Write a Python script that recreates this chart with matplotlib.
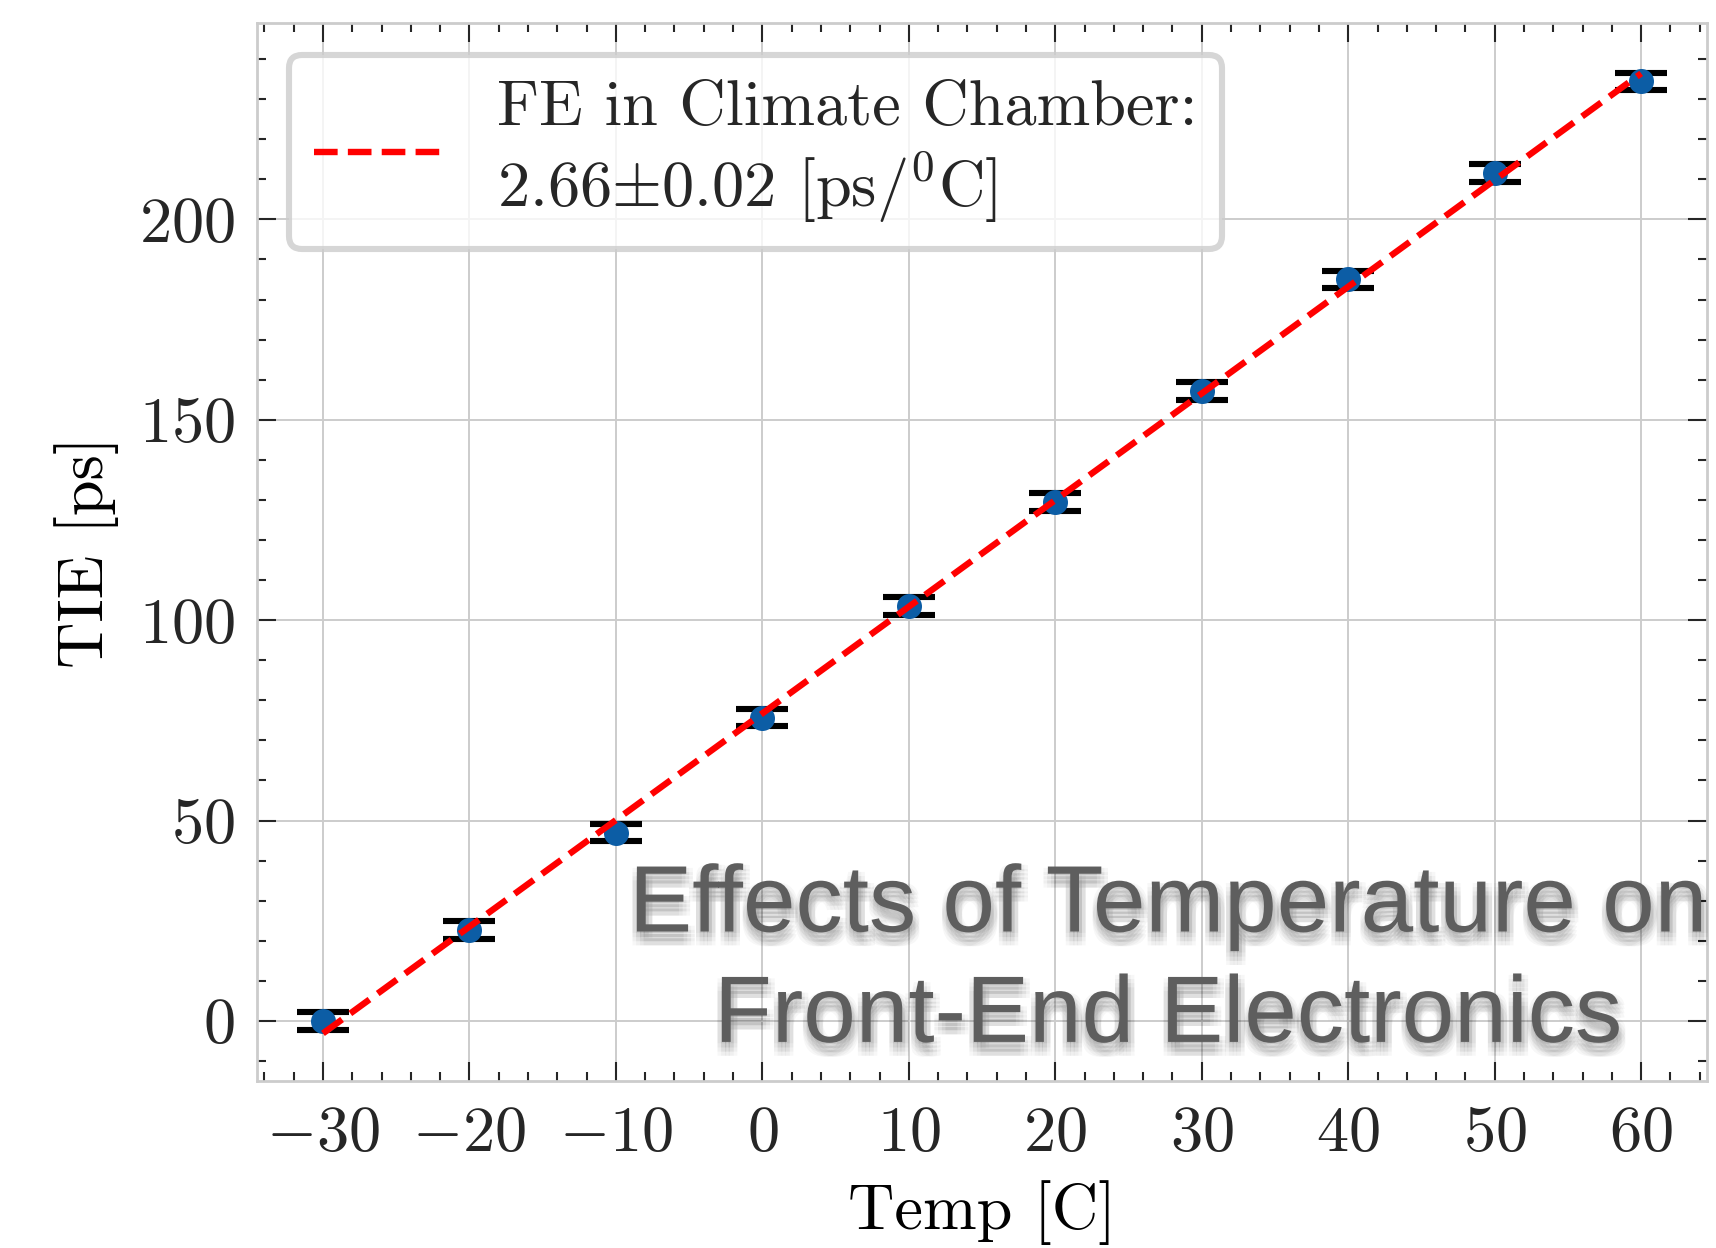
import numpy as np
import matplotlib
matplotlib.use("Agg")
import matplotlib.pyplot as plt
import matplotlib.patheffects as pe
from matplotlib.ticker import MultipleLocator

temp = np.array([-30, -20, -10, 0, 10, 20, 30, 40, 50, 60])
tie = np.array([0.0, 22.7, 47.0, 75.7, 103.6, 129.5, 157.1, 185.0, 211.5, 234.4])
tie_err = np.array([2.2] * 10)

fit_label = 'FE in Climate Chamber:\n2.66$\\pm$0.02 [ps/$^0$C]'
overlay = "Effects of Temperature on\nFront-End Electronics"

FS = 23.2
plt.rcParams['font.family'] = 'serif'
plt.rcParams['font.serif'] = ['cmr10']
plt.rcParams['mathtext.fontset'] = 'cm'
plt.rcParams['axes.formatter.use_mathtext'] = True
plt.rcParams['axes.unicode_minus'] = True
plt.rcParams['font.size'] = FS
plt.rcParams['text.color'] = '#262626'

fig = plt.figure(figsize=(8.58, 6.24), dpi=200)
ax = fig.add_axes([0.1498, 0.1338, 0.845, 0.8478])

# fit line
m, b = np.polyfit(temp, tie, 1)
xf = np.array([temp.min(), temp.max()])

ax.errorbar(temp, tie, yerr=tie_err, fmt='o', color='#0C5DA5', ecolor='k',
            markersize=8, capsize=9.2, capthick=2.2, elinewidth=1, zorder=3)
ax.plot(xf, m * xf + b, color='red', ls='--', lw=2.3, label=fit_label, zorder=4)

ax.set_xlim(-34.5, 64.5)
ax.set_ylim(-15, 249)
ax.xaxis.set_major_locator(MultipleLocator(10))
ax.xaxis.set_minor_locator(MultipleLocator(2))
ax.yaxis.set_major_locator(MultipleLocator(50))
ax.yaxis.set_minor_locator(MultipleLocator(10))

ax.tick_params(which='both', direction='in', top=True, right=True,
               color='#262626', labelcolor='#262626', labelsize=FS)
ax.tick_params(which='major', length=6.8, width=0.75)
ax.tick_params(which='minor', length=3.2, width=0.75)
ax.tick_params(axis='x', which='major', pad=9)
ax.tick_params(axis='y', which='major', pad=8)

for s in ax.spines.values():
    s.set_color('#cccccc')
    s.set_linewidth(1.0)
ax.grid(True, color='#cccccc', lw=0.7, zorder=0)
ax.set_axisbelow(True)

ax.set_xlabel('Temp [C]', fontsize=FS, labelpad=6)
ax.set_ylabel('TIE [ps]', fontsize=FS, labelpad=7)

leg = ax.legend(loc='upper left', fontsize=FS, handlelength=1.96,
                handletextpad=0.88, borderaxespad=0.5, borderpad=0.38,
                fancybox=True, framealpha=0.8, edgecolor='#cccccc')
leg.get_frame().set_linewidth(2.2)

# soft shadow for the overlay text
shadow = []
for dx in (-2.0, -0.7, 0.7, 2.0):
    for dy in (-0.5, -2.0, -3.5, -5.0):
        shadow.append(pe.SimplePatchShadow(offset=(dx + 0.4, dy), shadow_rgbFace='k', alpha=0.03))
shadow.append(pe.Normal())
fig.text(0.681, 0.229, overlay, ha='center', va='center', fontsize=34,
         family='Liberation Sans', color='#5e5e5e', linespacing=1.31,
         path_effects=shadow, zorder=10)

fig.savefig('out.png', dpi=200)
